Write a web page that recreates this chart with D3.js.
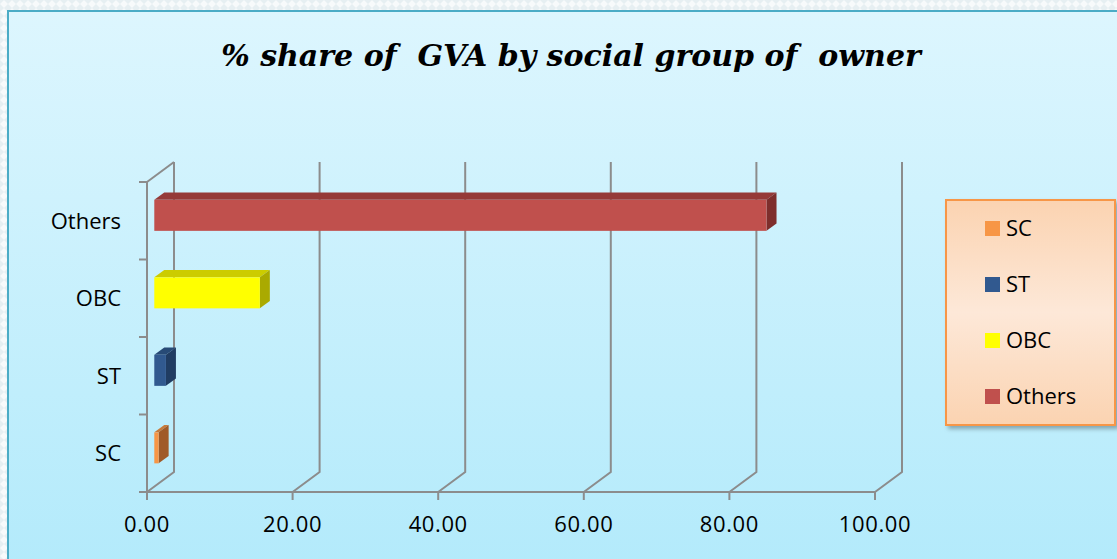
<!DOCTYPE html>
<html>
<head>
<meta charset="utf-8">
<script src="https://cdn.jsdelivr.net/npm/d3@7"></script>
<style>
  html, body { margin: 0; padding: 0; background: #eef4f6; }
  svg { display: block; }
</style>
</head>
<body>
<svg id="chart" width="1117" height="559"></svg>
<script>
// data
var categories = ["SC", "ST", "OBC", "Others"];
var shares = [0.6, 1.6, 14.5, 84.1];
var barColors = ["#F79646", "#31598F", "#FFFF00", "#C0504D"];
var topColors = ["#C77A3A", "#274A76", "#CCCC00", "#953A38"];
var sideColors = ["#A05A28", "#203C62", "#AAAA00", "#7E2E2C"];
var xTicks = [0, 20, 40, 60, 80, 100];
var titleText = "% share of  GVA by social group of  owner";

var svg = d3.select("#chart");
var W = 1117, H = 559;
var FONT = "'Open Sans', 'Noto Sans', sans-serif";

// 3d depth of the plot
var DX = 27, DY = -20;
var F0 = 0.27, F1 = 0.64; // bar front/back depth fraction

var x = d3.scaleLinear().domain([0, 100]).range([147, 875]);
var y = d3.scaleBand().domain(categories.slice().reverse()).range([182, 492]);

var defs = svg.append("defs");

// outer page pattern
var pat = defs.append("pattern").attr("id", "chk").attr("width", 8).attr("height", 8)
  .attr("patternUnits", "userSpaceOnUse");
pat.append("rect").attr("width", 8).attr("height", 8).attr("fill", "#e6eff2");
pat.append("path").attr("d", "M4,0 L8,4 L4,8 L0,4 Z").attr("fill", "#f7fafb");

var bg = defs.append("linearGradient").attr("id", "bg").attr("x1", 0).attr("y1", 0).attr("x2", 0).attr("y2", 1);
bg.append("stop").attr("offset", "0%").attr("stop-color", "#DDF6FE");
bg.append("stop").attr("offset", "100%").attr("stop-color", "#B2EAFB");

var lg = defs.append("linearGradient").attr("id", "lg").attr("x1", 0).attr("y1", 0).attr("x2", 0).attr("y2", 1);
lg.append("stop").attr("offset", "0%").attr("stop-color", "#FBD3B1");
lg.append("stop").attr("offset", "50%").attr("stop-color", "#FDE8D8");
lg.append("stop").attr("offset", "100%").attr("stop-color", "#FBD3B1");

var sh = defs.append("filter").attr("id", "shadow").attr("x", "-10%").attr("y", "-10%").attr("width", "130%").attr("height", "130%");
sh.append("feDropShadow").attr("dx", 3).attr("dy", 3).attr("stdDeviation", 2).attr("flood-color", "#000").attr("flood-opacity", 0.3);

svg.append("rect").attr("width", W).attr("height", H).attr("fill", "url(#chk)");

// chart area
svg.append("rect").attr("x", 8).attr("y", 11).attr("width", W + 10).attr("height", H + 10)
  .attr("fill", "url(#bg)").attr("stroke", "#4BACC6").attr("stroke-width", 2);

// title
svg.append("text").attr("x", 571).attr("y", 66).attr("text-anchor", "middle")
  .style("white-space", "pre")
  .attr("font-family", "'DejaVu Serif', 'Liberation Serif', serif")
  .attr("font-weight", "bold").attr("font-style", "italic").attr("font-size", 30)
  .attr("fill", "#000").text(titleText);

var grid = svg.append("g").attr("stroke", "#8C8C8C").attr("stroke-width", 2).attr("fill", "none");
var y0 = y.range()[0], y1 = y.range()[1];

// back wall gridlines + floor diagonals
xTicks.forEach(function(t) {
  var px = x(t);
  grid.append("path").attr("d", "M" + px + "," + y1 + "L" + (px + DX) + "," + (y1 + DY) + "L" + (px + DX) + "," + (y0 + DY));
});
// left wall
grid.append("path").attr("d", "M" + x(0) + "," + y0 + "L" + (x(0) + DX) + "," + (y0 + DY));

// front axes
grid.append("line").attr("x1", x(0)).attr("x2", x(0)).attr("y1", y0).attr("y2", y1);
grid.append("line").attr("x1", x(0)).attr("x2", x(100)).attr("y1", y1).attr("y2", y1);
var yTickPos = [y0].concat(y.domain().map(function(c) { return y(c) + y.bandwidth(); }));
yTickPos.forEach(function(p) {
  grid.append("line").attr("x1", x(0) - 8).attr("x2", x(0)).attr("y1", p).attr("y2", p);
});
xTicks.forEach(function(t) {
  grid.append("line").attr("x1", x(t)).attr("x2", x(t)).attr("y1", y1).attr("y2", y1 + 8);
});

// x tick labels
svg.append("g").selectAll("text").data(xTicks).join("text")
  .attr("x", function(d) { return x(d); }).attr("y", 532).attr("text-anchor", "middle")
  .attr("font-family", FONT).attr("font-size", 22).attr("letter-spacing", 0.6)
  .attr("fill", "#000").text(function(d) { return d3.format(".2f")(d); });

// category labels
svg.append("g").selectAll("text").data(categories).join("text")
  .attr("x", 121).attr("y", function(d) { return y(d) + y.bandwidth() / 2 + 8; })
  .attr("text-anchor", "end")
  .attr("font-family", FONT).attr("font-size", 22)
  .attr("fill", "#000").text(function(d) { return d; });

// 3d bars
var bh = y.bandwidth() * 0.4;
var ox = DX * F0, oy = DY * F0;
var ddx = DX * (F1 - F0), ddy = DY * (F1 - F0);
var bars = svg.append("g");
categories.forEach(function(c, i) {
  var xa = x(0) + ox, xb = x(shares[i]) + ox;
  var ya = y(c) + y.bandwidth() / 2 - bh / 2 + oy, yb = ya + bh;
  var g = bars.append("g");
  g.append("path").attr("fill", topColors[i])
    .attr("d", "M" + xa + "," + ya + "L" + (xa + ddx) + "," + (ya + ddy) + "L" + (xb + ddx) + "," + (ya + ddy) + "L" + xb + "," + ya + "Z");
  g.append("path").attr("fill", sideColors[i])
    .attr("d", "M" + xb + "," + ya + "L" + (xb + ddx) + "," + (ya + ddy) + "L" + (xb + ddx) + "," + (yb + ddy) + "L" + xb + "," + yb + "Z");
  g.append("rect").attr("x", xa).attr("y", ya).attr("width", xb - xa).attr("height", bh).attr("fill", barColors[i]);
});

// legend
var leg = svg.append("g");
leg.append("rect").attr("x", 946).attr("y", 200).attr("width", 169).attr("height", 225)
  .attr("fill", "url(#lg)").attr("stroke", "#F79646").attr("stroke-width", 2).attr("filter", "url(#shadow)");
categories.forEach(function(c, i) {
  var cy = 228 + i * 56;
  leg.append("rect").attr("x", 985).attr("y", cy - 7).attr("width", 15).attr("height", 15).attr("fill", barColors[i]);
  leg.append("text").attr("x", 1006).attr("y", cy + 8)
    .attr("font-family", FONT).attr("font-size", 22)
    .attr("fill", "#000").text(c);
});
</script>
</body>
</html>
